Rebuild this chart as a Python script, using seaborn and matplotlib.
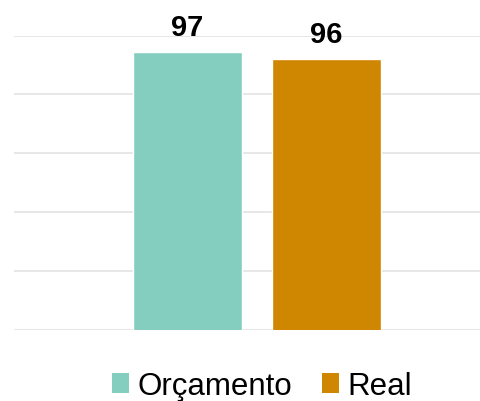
import matplotlib
matplotlib.use("Agg")
import matplotlib.pyplot as plt
from matplotlib.patches import Patch
import seaborn as sns
import numpy as np

# data
categories = ["Orçamento", "Real"]
values = [97.2, 96.0]
colors = ["#84CEC0", "#CF8600"]
y_ticks = [50, 60, 70, 80, 90, 100]

sns.set_theme(style="white")
plt.rcParams['font.family'] = ['Liberation Sans', 'DejaVu Sans']

fig = plt.figure(figsize=(4.81, 4.02), dpi=100)
ax = fig.add_axes([14 / 481, 1 - 330.5 / 402, 1 - 14 / 481, (330.5 - 36.5) / 402])

sns.barplot(x=categories, y=values, hue=categories, palette=colors,
            width=0.784, ax=ax, legend=False, saturation=1)

ax.set_ylim(y_ticks[0], y_ticks[-1])
ax.set_yticks(y_ticks)
ax.set_xlim(-1.248, 2.111)
ax.set_axisbelow(True)
ax.yaxis.grid(True, color="#e3e3e3", linewidth=1.2)
ax.xaxis.grid(False)
for sp in ax.spines.values():
    sp.set_visible(False)
ax.tick_params(left=False, bottom=False, labelleft=False, labelbottom=False)
ax.set_xlabel("")
ax.set_ylabel("")

for cont in ax.containers:
    ax.bar_label(cont, fmt="%.0f", padding=8, fontsize=21, fontweight="bold",
                 color="black")

handles = [Patch(facecolor=c, edgecolor="none") for c in colors]
leg = fig.legend(handles, categories, loc="center", bbox_to_anchor=(262 / 481, 1 - 387 / 402),
                 ncol=2, frameon=False, fontsize=22.5, handlelength=0.55, handleheight=0.6,
                 handletextpad=0.28, columnspacing=0.95)
for t in leg.get_texts():
    t.set_color("black")

fig.savefig("out.png", dpi=100)
